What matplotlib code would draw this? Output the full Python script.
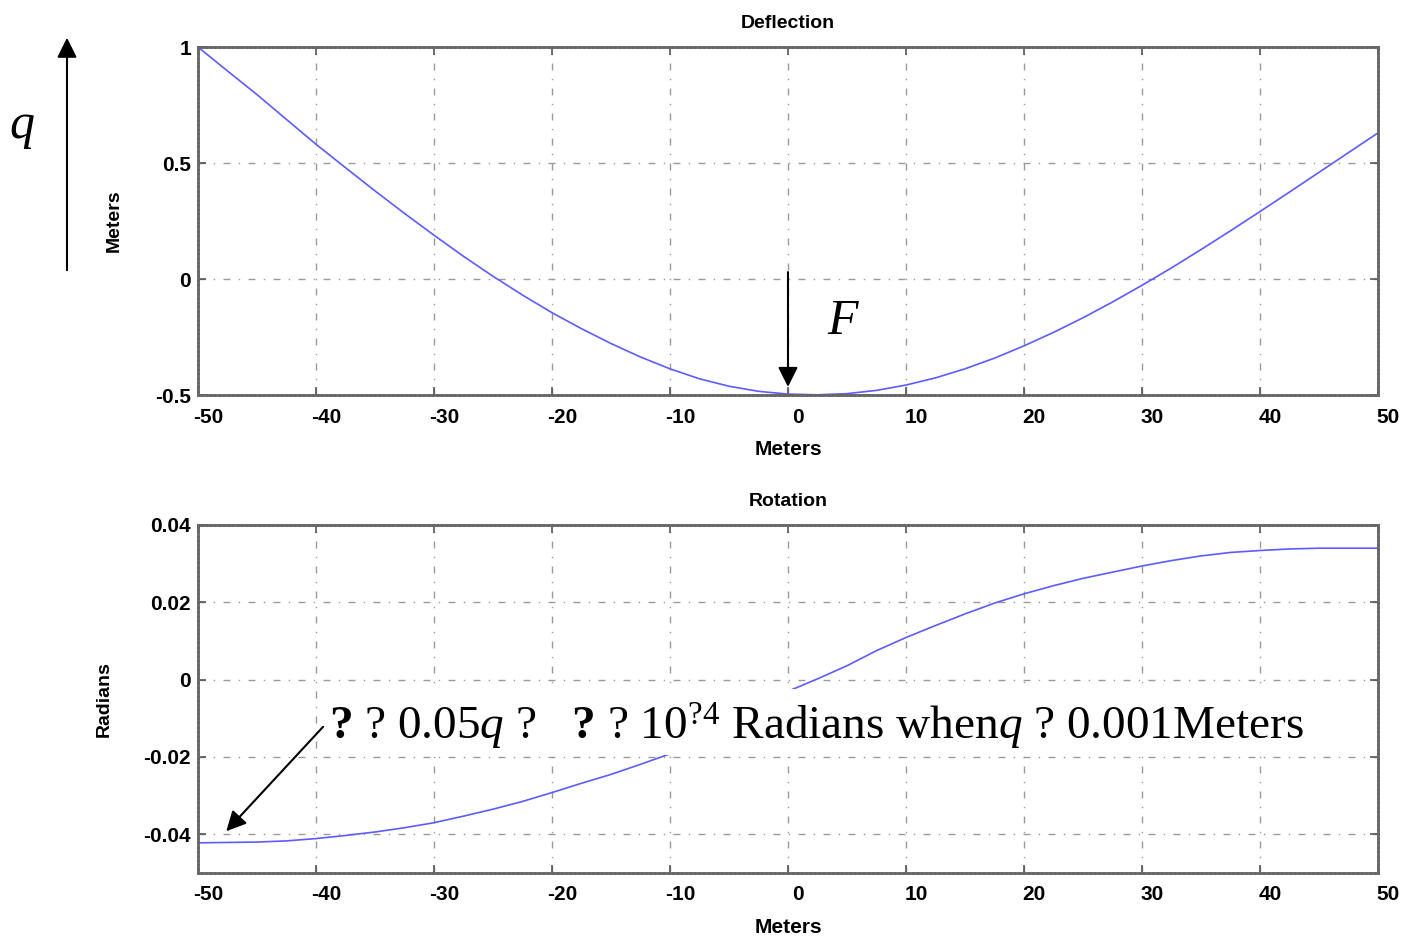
import numpy as np
import matplotlib
matplotlib.use("Agg")
import matplotlib.pyplot as plt
from matplotlib.patches import Rectangle, FancyArrowPatch
from matplotlib.transforms import ScaledTranslation

plt.rcParams['font.family'] = ['Liberation Sans', 'DejaVu Sans']
plt.rcParams['axes.unicode_minus'] = False
plt.rcParams['mathtext.fontset'] = 'custom'
plt.rcParams['mathtext.rm'] = 'Liberation Serif'
plt.rcParams['mathtext.it'] = 'Liberation Serif:italic'
plt.rcParams['mathtext.bf'] = 'Liberation Serif:bold'

# position along the beam (m)
x = np.linspace(-50, 50, 41)

# deflection (m)
deflection = [1.000, 0.897, 0.795, 0.688, 0.581, 0.480, 0.380, 0.283, 0.189, 0.098,
              0.012, -0.069, -0.145, -0.214, -0.278, -0.336, -0.387, -0.430, -0.462, -0.484,
              -0.496, -0.499, -0.494, -0.480, -0.457, -0.426, -0.387, -0.341, -0.288, -0.230,
              -0.167, -0.099, -0.027, 0.048, 0.127, 0.208, 0.291, 0.375, 0.460, 0.545,
              0.630]

# rotation (rad)
rotation = [-0.0422, -0.0421, -0.0420, -0.0417, -0.0411, -0.0403, -0.0394, -0.0383, -0.0370, -0.0353,
            -0.0335, -0.0315, -0.0292, -0.0268, -0.0245, -0.0219, -0.0192, -0.0150, -0.0108, -0.0068,
            -0.0030, 0.0002, 0.0036, 0.0075, 0.0109, 0.0140, 0.0170, 0.0198, 0.0222, 0.0243,
            0.0262, 0.0278, 0.0294, 0.0308, 0.0320, 0.0329, 0.0334, 0.0338, 0.0340, 0.0340,
            0.0340]

xticks = [-50, -40, -30, -20, -10, 0, 10, 20, 30, 40, 50]
defl_ticks = [-0.5, 0, 0.5, 1]
defl_labels = ['-0.5', '0', '0.5', '1']
rot_ticks = [-0.04, -0.02, 0, 0.02, 0.04]
rot_labels = ['-0.04', '-0.02', '0', '0.02', '0.04']

fig = plt.figure(figsize=(14.08, 9.39), dpi=100)
ax1 = fig.add_axes([0.1406, 0.5793, 0.8381, 0.3706])
ax2 = fig.add_axes([0.1406, 0.0703, 0.8381, 0.3706])

line_col = '#5c5cff'
fs = 15
for ax, y, yt, ytl, ttl, ylab, ylim, ypad in [
        (ax1, deflection, defl_ticks, defl_labels, 'Deflection', 'Meters', (-0.5, 1), 23),
        (ax2, rotation, rot_ticks, rot_labels, 'Rotation', 'Radians', (-0.05, 0.04), 22)]:
    ax.plot(x, y, color=line_col, lw=1.2)
    ax.set_xlim(-50, 50)
    ax.set_ylim(*ylim)
    ax.set_xticks(xticks)
    ax.set_xticklabels([str(t) for t in xticks], fontsize=fs, fontweight='bold')
    ax.set_yticks(yt)
    ax.set_yticklabels(ytl, fontsize=fs, fontweight='bold')
    ax.grid(True, color='#9a9a9a', lw=1.0, linestyle=(0, (5, 6, 1, 6)))
    ax.tick_params(direction='in', top=True, right=True, length=6, width=1.2,
                   color='#555555', pad=9)
    ax.tick_params(axis='y', pad=5)
    for s in ax.spines.values():
        s.set_color('#666666')
        s.set_linewidth(2.0)
        s.set_linestyle((0, (1, 0.6)))
    ax.set_title(ttl, fontsize=fs - 1, fontweight='bold', pad=14)
    ax.set_xlabel('Meters', fontsize=fs, fontweight='bold', labelpad=10)
    ax.set_ylabel(ylab, fontsize=fs - 1, fontweight='bold', labelpad=ypad)
    # tick labels sit a little right of their ticks, as in the printout
    off = ScaledTranslation(0.10, 0, fig.dpi_scale_trans)
    for lab in ax.get_xticklabels():
        lab.set_transform(lab.get_transform() + off)

# force arrow and label on the deflection panel
ax1.annotate('', xy=(0, -0.465), xytext=(0, 0.03),
             arrowprops=dict(arrowstyle='-|>', color='black', lw=1.5,
                             mutation_scale=30, shrinkA=0, shrinkB=0))
ax1.text(4.7, -0.18, '$F$', fontsize=36, ha='center', va='center')

# load arrow q at the far left of the figure
fig.patches.append(FancyArrowPatch(
    (67 / 1408, 1 - 273 / 939), (67 / 1408, 1 - 35 / 939), transform=fig.transFigure,
    arrowstyle='-|>', mutation_scale=30, color='black', lw=1.5))
fig.text(22 / 1408, 1 - 128 / 939, '$q$', fontsize=36, ha='center', va='center')

# annotation on the rotation panel (pasted over the plot on a white strip)
ax2.add_patch(Rectangle((-39.6, -0.0196), 89.4, 0.0172, facecolor='white',
                        edgecolor='none', zorder=3))
ax2.text(-38.9, -0.0155,
         r'$\mathbf{?}$ ? 0.05$q$ ?   $\mathbf{?}$ ? 10$^{?4}$ Radians when$q$ ? 0.001Meters',
         fontsize=34, family='Liberation Serif', ha='left', va='baseline', zorder=5)
ax2.annotate('', xy=(-47.6, -0.0392), xytext=(-39.4, -0.0122),
             arrowprops=dict(arrowstyle='-|>', color='black', lw=1.5,
                             mutation_scale=30, shrinkA=0, shrinkB=0), zorder=6)

fig.savefig('out.png', dpi=100, facecolor='white')
